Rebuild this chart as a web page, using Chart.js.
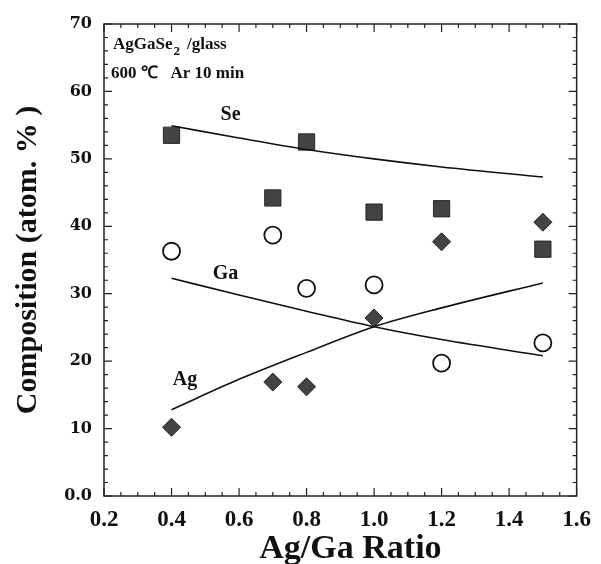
<!DOCTYPE html>
<html>
<head>
<meta charset="utf-8">
<script src="https://cdn.jsdelivr.net/npm/chart.js@4.4.0/dist/chart.umd.min.js"></script>
<style>
  html, body { margin: 0; padding: 0; background: #fff; }
  #wrap { width: 601px; height: 564px; position: relative; }
</style>
</head>
<body>
<div id="wrap"><canvas id="c" width="601" height="564"></canvas></div>
<script>
// ---- data ----
const ratios = [0.4, 0.7, 0.8, 1.0, 1.2, 1.5];
const seValues = [53.5, 44.2, 52.5, 42.1, 42.6, 36.6];
const gaValues = [36.3, 38.7, 30.8, 31.3, 19.7, 22.7];
const agValues = [10.2, 16.9, 16.2, 26.4, 37.7, 40.6];

const fitRatios = [0.4, 0.6, 0.8, 1.0, 1.2, 1.5];
const seFit = [54.9, 53.1, 51.4, 50.0, 48.8, 47.3];
const gaFit = [32.3, 29.8, 27.4, 25.1, 23.2, 20.8];
const agFit = [12.8, 17.3, 21.3, 25.1, 27.9, 31.6];

const xTicks = [0.2, 0.4, 0.6, 0.8, 1.0, 1.2, 1.4, 1.6];
const yTicks = [0, 10, 20, 30, 40, 50, 60, 70];

const seriesLabels = [
  { text: 'Se', x: 0.575, y: 56.6 },
  { text: 'Ga', x: 0.56, y: 32.9 },
  { text: 'Ag', x: 0.44, y: 17.3 }
];

const pts = (xs, ys) => xs.map((x, i) => ({ x: x, y: ys[i] }));

const SERIF = '"Liberation Serif", "Times New Roman", serif';
const MARK = '#434343';

const framePlugin = {
  id: 'frame',
  afterDraw(chart) {
    const ctx = chart.ctx;
    const xs = chart.scales.x, ys = chart.scales.y;
    const L = chart.chartArea.left, R = chart.chartArea.right;
    const T = chart.chartArea.top, B = chart.chartArea.bottom;
    ctx.save();
    ctx.strokeStyle = '#222';
    ctx.lineWidth = 1.5;
    ctx.strokeRect(L, T, R - L, B - T);
    ctx.lineWidth = 1.2;
    ctx.beginPath();
    for (let i = 0; i <= 28; i++) {
      const v = 0.2 + i * 0.05;
      const px = xs.getPixelForValue(v);
      const len = (i % 4 === 0) ? 8 : 4;
      ctx.moveTo(px, B); ctx.lineTo(px, B - len);
      ctx.moveTo(px, T); ctx.lineTo(px, T + len);
    }
    for (let v = 0; v <= 70; v += 2) {
      const py = ys.getPixelForValue(v);
      const len = (v % 10 === 0) ? 8 : 4;
      ctx.moveTo(L, py); ctx.lineTo(L + len, py);
      ctx.moveTo(R, py); ctx.lineTo(R - len, py);
    }
    ctx.stroke();

    ctx.fillStyle = '#111';
    ctx.textBaseline = 'alphabetic';
    ctx.textAlign = 'left';
    ctx.font = 'bold 17px ' + SERIF;
    let x0 = L + 9, y0 = T + 25;
    ctx.fillText('AgGaSe', x0, y0);
    let w = ctx.measureText('AgGaSe').width;
    ctx.font = 'bold 13px ' + SERIF;
    ctx.fillText('2', x0 + w + 1, y0 + 6);
    ctx.font = 'bold 17px ' + SERIF;
    ctx.fillText('  /glass', x0 + w + 6, y0);
    ctx.fillText('600 \u2103   Ar 10 min', L + 7, T + 54);

    ctx.font = 'bold 20px ' + SERIF;
    ctx.textAlign = 'center';
    ctx.textBaseline = 'middle';
    seriesLabels.forEach(l => {
      ctx.fillText(l.text, xs.getPixelForValue(l.x), ys.getPixelForValue(l.y));
    });

    // x axis title
    ctx.font = 'bold 34px ' + SERIF;
    ctx.fillText('Ag/Ga Ratio', xs.getPixelForValue(0.93), 549);
    ctx.restore();
  }
};

const lineDs = (data) => ({
  type: 'scatter',
  data: data,
  showLine: true,
  borderColor: '#111',
  borderWidth: 1.6,
  pointRadius: 0,
  pointHoverRadius: 0,
  cubicInterpolationMode: 'monotone',
  fill: false
});

new Chart(document.getElementById('c'), {
  type: 'scatter',
  data: {
    datasets: [
      lineDs(pts(fitRatios, seFit)),
      lineDs(pts(fitRatios, gaFit)),
      lineDs(pts(fitRatios, agFit)),
      {
        label: 'Se', data: pts(ratios, seValues),
        pointStyle: 'rect', pointRadius: 11.5, pointHoverRadius: 11.5,
        backgroundColor: MARK, borderColor: '#2a2a2a', borderWidth: 1
      },
      {
        label: 'Ga', data: pts(ratios, gaValues),
        pointStyle: 'circle', pointRadius: 8.5, pointHoverRadius: 8.5,
        backgroundColor: '#fff', borderColor: '#111', borderWidth: 1.8
      },
      {
        label: 'Ag', data: pts(ratios, agValues),
        pointStyle: 'rectRot', pointRadius: 9, pointHoverRadius: 9,
        backgroundColor: MARK, borderColor: '#222', borderWidth: 1
      }
    ]
  },
  options: {
    responsive: false,
    animation: false,
    events: [],
    layout: { padding: { left: 0, right: 22, top: 24, bottom: 0 } },
    plugins: { legend: { display: false }, tooltip: { enabled: false } },
    scales: {
      x: {
        type: 'linear', min: 0.2, max: 1.6,
        afterBuildTicks(s) { s.ticks = xTicks.map(v => ({ value: v })); },
        afterFit(s) { s.height = 68; },
        grid: { display: false, drawTicks: false },
        border: { display: false },
        ticks: {
          padding: 10,
          color: '#111',
          font: { family: SERIF, size: 23, weight: 'bold' },
          callback: v => Number(v).toFixed(1)
        },
        title: { display: false }
      },
      y: {
        type: 'linear', min: 0, max: 70,
        afterBuildTicks(s) { s.ticks = yTicks.map(v => ({ value: v })); },
        afterFit(s) { s.width = 104; },
        grid: { display: false, drawTicks: false },
        border: { display: false },
        ticks: {
          padding: 12,
          color: '#111',
          font: { family: '"DejaVu Serif", serif', size: 16, weight: 'bold' },
          callback: v => (v === 0 ? '0.0' : String(v))
        },
        title: {
          display: true, text: 'Composition (atom. % )', color: '#111',
          font: { family: SERIF, size: 30, weight: 'bold', lineHeight: 1 },
          padding: { top: 13, bottom: 0 }
        }
      }
    }
  },
  plugins: [framePlugin]
});
</script>
</body>
</html>
